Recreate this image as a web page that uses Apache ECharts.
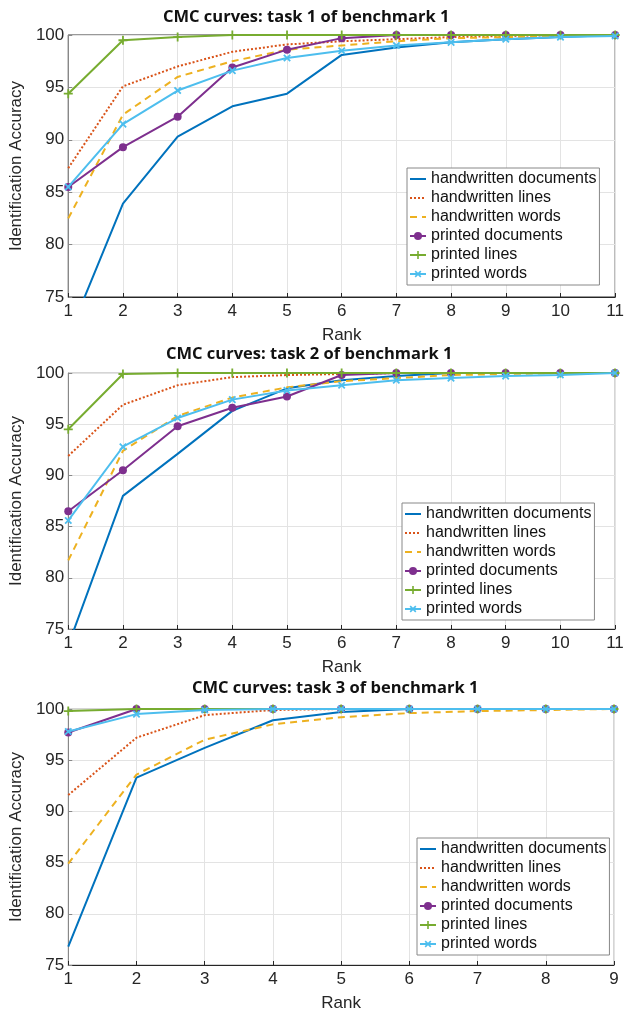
<!DOCTYPE html>
<html>
<head>
<meta charset="utf-8">
<script src="https://cdn.jsdelivr.net/npm/echarts@6/dist/echarts.min.js"></script>
<style>
  html, body { margin: 0; padding: 0; background: #fff; }
  #main { width: 627px; height: 1013px; }
</style>
</head>
<body>
<div id="main"></div>
<script>
// series names (legend order)
var seriesNames = ["handwritten documents", "handwritten lines", "handwritten words",
  "printed documents", "printed lines", "printed words"];
var titles = ["CMC curves: task 1 of benchmark 1", "CMC curves: task 2 of benchmark 1",
  "CMC curves: task 3 of benchmark 1"];

var ranks12 = [1, 2, 3, 4, 5, 6, 7, 8, 9, 10, 11];
var ranks3 = [1, 2, 3, 4, 5, 6, 7, 8, 9];

// task 1
var t1HwDocs = [71.2, 83.9, 90.3, 93.2, 94.4, 98.1, 98.8, 99.3, 99.6, 99.8, 100];
var t1HwLines = [87.3, 95.1, 97.0, 98.4, 99.1, 99.4, 99.6, 99.8, 99.9, 100, 100];
var t1HwWords = [82.5, 92.4, 96.0, 97.5, 98.6, 99.0, 99.4, 99.7, 99.8, 99.9, 100];
var t1PrDocs = [85.5, 89.3, 92.2, 96.9, 98.6, 99.7, 100, 100, 100, 100, 100];
var t1PrLines = [94.4, 99.5, 99.8, 100, 100, 100, 100, 100, 100, 100, 100];
var t1PrWords = [85.5, 91.5, 94.7, 96.6, 97.8, 98.5, 99.0, 99.3, 99.6, 99.8, 99.9];

// task 2
var t2HwDocs = [73.4, 88.0, 92.1, 96.3, 98.5, 99.3, 99.7, 100, 100, 100, 100];
var t2HwLines = [91.9, 96.9, 98.8, 99.6, 99.8, 99.9, 100, 100, 100, 100, 100];
var t2HwWords = [81.7, 92.4, 95.8, 97.6, 98.6, 99.2, 99.5, 99.8, 99.9, 100, 100];
var t2PrDocs = [86.5, 90.5, 94.8, 96.6, 97.7, 99.8, 100, 100, 100, 100, 100];
var t2PrLines = [94.5, 99.9, 100, 100, 100, 100, 100, 100, 100, 100, 100];
var t2PrWords = [85.6, 92.8, 95.6, 97.4, 98.3, 98.8, 99.3, 99.5, 99.7, 99.8, 100];

// task 3
var t3HwDocs = [76.8, 93.3, 96.2, 98.9, 99.7, 100, 100, 100, 100];
var t3HwLines = [91.6, 97.2, 99.4, 99.9, 100, 100, 100, 100, 100];
var t3HwWords = [84.9, 93.6, 97.0, 98.5, 99.2, 99.6, 99.8, 99.9, 100];
var t3PrDocs = [97.7, 100, 100, 100, 100, 100, 100, 100, 100];
var t3PrLines = [99.8, 100, 100, 100, 100, 100, 100, 100, 100];
var t3PrWords = [97.8, 99.5, 99.9, 100, 100, 100, 100, 100, 100];

var panels = [
  { ranks: ranks12, data: [t1HwDocs, t1HwLines, t1HwWords, t1PrDocs, t1PrLines, t1PrWords] },
  { ranks: ranks12, data: [t2HwDocs, t2HwLines, t2HwWords, t2PrDocs, t2PrLines, t2PrWords] },
  { ranks: ranks3, data: [t3HwDocs, t3HwLines, t3HwWords, t3PrDocs, t3PrLines, t3PrWords] }
];

var colors = ["#0072BD", "#D95319", "#EDB120", "#7E2F8E", "#77AC30", "#4DBEEE"];
var plusPath = "path://M4,0H6V4H10V6H6V10H4V6H0V4H4Z";
var styles = [
  { type: "solid", symbol: "none" },
  { type: "dotted", symbol: "none" },
  { type: [7, 5], symbol: "none" },
  { type: "solid", symbol: "circle", size: 8, rotate: 0 },
  { type: "solid", symbol: plusPath, size: 9, rotate: 0 },
  { type: "solid", symbol: plusPath, size: 9, rotate: 45 }
];

// layout of the three panels
var grids = [
  { left: 64, right: 8, top: 35, height: 262 },
  { left: 68, right: 12, top: 373, height: 256 },
  { left: 68, right: 13, top: 709, height: 256 }
];
var titlePos = [{ left: 163, top: 9 }, { left: 166, top: 346 }, { left: 192, top: 680 }];
var legendPos = [{ left: 407, top: 168 }, { left: 402, top: 503 }, { left: 417, top: 838 }];

var font = "'Liberation Sans', Arial, sans-serif";
var textColor = "#262626";

// legend entries: hide the default circle on line-only series
var legendData = seriesNames.map(function (n, i) {
  return styles[i].symbol === "none" ? { name: n, itemStyle: { opacity: 0 } } : { name: n };
});

var option = {
  backgroundColor: "#fff",
  animation: false,
  title: [], grid: [], xAxis: [], yAxis: [], legend: [], series: []
};

panels.forEach(function (p, k) {
  option.title.push({
    text: titles[k], left: titlePos[k].left, top: titlePos[k].top, padding: 0,
    textStyle: { fontFamily: "'Open Sans', sans-serif", fontWeight: "bold", fontSize: 16.5, color: "#111" }
  });
  option.grid.push({
    left: grids[k].left, right: grids[k].right, top: grids[k].top, height: grids[k].height,
    show: true, borderColor: k === 0 ? "#333" : "#aaa", borderWidth: 1, backgroundColor: "#fff"
  });
  option.xAxis.push({
    type: "value", gridIndex: k, min: 1, max: p.ranks[p.ranks.length - 1], interval: 1,
    name: "Rank", nameLocation: "middle", nameGap: 30,
    nameTextStyle: { fontFamily: font, fontSize: 17, color: textColor },
    axisLine: { lineStyle: { color: "#262626", width: 1 } },
    axisTick: { inside: true, length: 4, lineStyle: { color: "#262626" } },
    axisLabel: { fontFamily: font, fontSize: 17, color: textColor, margin: 6 },
    splitLine: { show: true, lineStyle: { color: "#e3e3e3", width: 1 } }
  });
  option.yAxis.push({
    type: "value", gridIndex: k, min: 75, max: 100, interval: 5,
    name: "Identification Accuracy", nameLocation: "middle", nameGap: 40,
    nameTextStyle: { fontFamily: font, fontSize: 17, color: textColor },
    axisLine: { show: true, lineStyle: { color: "#888", width: 1 } },
    axisTick: { show: true, inside: true, length: 4, lineStyle: { color: "#888" } },
    axisLabel: { fontFamily: font, fontSize: 17, color: textColor, margin: 4 },
    splitLine: { show: true, lineStyle: { color: "#e3e3e3", width: 1 } }
  });
  option.legend.push({
    orient: "vertical", left: legendPos[k].left, top: legendPos[k].top,
    data: legendData, padding: [3, 3, 3, 2], itemGap: 3, itemWidth: 16, itemHeight: 10,
    backgroundColor: "#fff", borderColor: "#888", borderWidth: 1, borderRadius: 0,
    selectedMode: false,
    textStyle: { fontFamily: font, fontSize: 16, color: "#111", lineHeight: 16 }
  });
  p.data.forEach(function (vals, i) {
    var st = styles[i];
    option.series.push({
      name: seriesNames[i], type: "line", xAxisIndex: k, yAxisIndex: k,
      data: p.ranks.map(function (r, j) { return [r, vals[j]]; }),
      symbol: st.symbol, symbolSize: st.size || 4, symbolRotate: st.rotate || 0,
      showSymbol: st.symbol !== "none",
      color: colors[i],
      lineStyle: { color: colors[i], width: 2, type: st.type },
      itemStyle: { color: colors[i] },
      z: 2 + i
    });
  });
});

var myChart = echarts.init(document.getElementById("main"), null, { renderer: "canvas" });
myChart.setOption(option);
</script>
</body>
</html>
